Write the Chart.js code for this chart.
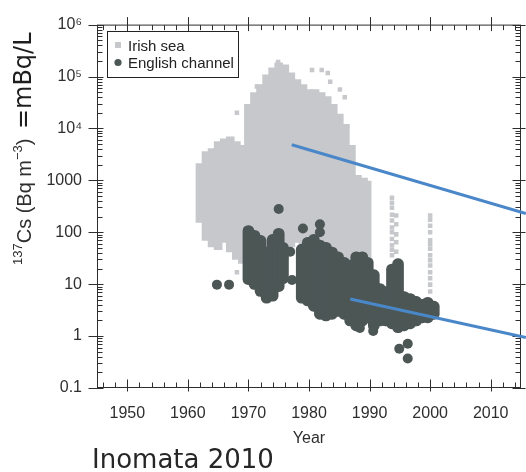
<!DOCTYPE html>
<html lang="en">
<head>
  <meta charset="UTF-8" />
  <title>137Cs in the Irish sea and the English channel</title>
  <script src="https://cdn.jsdelivr.net/npm/chart.js"></script>
  <style>
    body { margin: 0; background: #fff; }
    #wrap { position: relative; width: 526px; height: 472px; }
  </style>
</head>
<body>
  <div id="wrap"><canvas id="csChart" width="526" height="472"></canvas></div>

  <script>
    // Irish sea, dense body: range of values per year (Bq m-3)
    const irishYears = [1962, 1963, 1964, 1965, 1966, 1967, 1968, 1969, 1970, 1971, 1972, 1973, 1974, 1975, 1976,
      1977, 1978, 1979, 1980, 1981, 1982, 1983, 1984, 1985, 1986, 1987, 1988, 1989, 1989.6];
    const irishHigh = [2100, 3600, 4100, 5600, 6300, 6900, 5600, 4700, 29000, 49000, 70000, 108000, 147000, 183000, 167000,
      118000, 87000, 70000, 56000, 56000, 49000, 41000, 29000, 19000, 12000, 4700, 1250, 1100, 970];
    const irishLow = [155, 70, 52, 46, 64, 42, 30, 25, 11, 11, 11, 11, 11, 11, 30,
      52, 64, 17, 17, 17, 17, 17, 17, 17, 30, 30, 30, 30, 33];

    // Irish sea, isolated samples
    const irishPtYears = [1968.1, 1971.4, 1974.9, 1980.5, 1982.1, 1983.1, 1983.5, 1985.1, 1985.9, 1986.3, 1986.4, 1968.1,
      1993.7, 1993.7, 1993.7, 1993.7, 1993.7, 1993.7, 1993.7, 1993.7, 1993.7, 1993.7, 1993.7,
      1994.4, 1994.4, 1994.4, 1994.4, 1994.4,
      2000.0, 2000.0, 2000.0, 2000.0, 2000.0, 2000.0, 2000.0, 2000.0, 2000.0, 2000.0, 2000.0, 2000.0, 2000.0, 2000.0];
    const irishPtValues = [20000, 64000, 190000, 134000, 134000, 117000, 79000, 56000, 40000, 10700, 3700, 17,
      460, 370, 296, 218, 168, 124, 100, 74, 56, 46, 36,
      210, 142, 91, 64, 42,
      210, 175, 134, 100, 70, 59, 48, 36, 29, 23, 17, 13, 9.8, 7.2];

    // English channel, dense body: range of values per year
    const engYears = [1970, 1971, 1972, 1973, 1974, 1975, 1975.7, 1978.8, 1979.8, 1980.8, 1981.8, 1982.8, 1983.8, 1984.8,
      1985.8, 1986.8, 1987.8, 1988.8, 1989.7, 1990.7, 1991.7, 1992.7, 1993.7, 1994.7, 1995.7, 1996.7, 1997.7, 1998.7,
      1999.6, 2000.6];
    const engHigh = [135, 109, 87, 52, 91, 119, 64, 59, 80, 91, 71, 64, 52, 42,
      33, 29, 42, 42, 33, 19, 10.3, 9, 24.5, 31, 7.2, 6.6, 5.8, 5.1,
      5.6, 4.7];
    const engLow = [9.8, 7.9, 5.8, 4.3, 4.7, 7.2, 10.2, 4.3, 3.8, 3.0, 2.1, 1.95, 2.1, 2.4,
      2.1, 1.57, 1.26, 1.57, 1.8, 1.26, 1.57, 1.57, 1.38, 1.16, 1.26, 1.38, 1.57, 1.8,
      1.8, 2.1];

    // English channel, isolated samples
    const engPtYears = [1964.8, 1966.8, 1975.0, 1976.9, 1977.2, 1979.0, 1981.8, 1981.8, 1988.4, 1990.6, 1994.9, 1996.3, 1996.3];
    const engPtValues = [9.8, 9.8, 280, 42, 12, 118, 142, 100, 1.43, 1.26, 0.57, 0.71, 0.37];

    // blue trend lines drawn over the figure
    const upperLineYears = [1977.15, 2015.8];
    const upperLineValues = [4860, 229];
    const lowerLineYears = [1986.8, 2015.8];
    const lowerLineValues = [5.2, 0.94];

    const xTickYears = [1950, 1960, 1970, 1980, 1990, 2000, 2010];
    const yTickValues = [0.1, 1, 10, 100, 1000, 1e4, 1e5, 1e6];
    const yTickLabels = ["0.1", "1", "10", "100", "1000", "10⁴", "10⁵", "10⁶"];

    const IRISH = "#c6c8cb";
    const DARK = "#4c5655";
    const BLUE = "#4a87c9";
    const INK = "#2e2e2e";
    const SANS = "'Liberation Sans', Arial, Helvetica, sans-serif";
    const ROUND = "'DejaVu Sans', Verdana, sans-serif";

    const toRange = (xs, lo, hi) => xs.map((x, i) => ({ x: x, y: [lo[i], hi[i]] }));
    const toPoints = (xs, ys) => xs.map((x, i) => ({ x: x, y: ys[i] }));

    // frame, inward ticks, legend box and the extra labels
    const decor = {
      id: "decor",
      beforeDatasetsDraw(chart) {
        const { ctx, chartArea: a, scales: { x, y } } = chart;
        ctx.save();
        ctx.strokeStyle = INK;
        ctx.lineWidth = 1;
        const L = a.left + 0.5, R = a.right - 0.5, T = a.top + 0.5, B = a.bottom - 0.5;
        ctx.strokeRect(L, T, R - L, B - T);
        ctx.beginPath();
        const xTick = (yr, major) => {
          const px = Math.round(x.getPixelForValue(yr)) + 0.5;
          ctx.moveTo(px, B - (major ? 8 : 5)); ctx.lineTo(px, B + (major ? 4 : 0));
          ctx.moveTo(px, T - (major ? 8 : 0)); ctx.lineTo(px, T + (major ? 6 : 5));
        };
        const yTick = (v, major) => {
          const py = Math.round(y.getPixelForValue(v)) + 0.5;
          ctx.moveTo(L - (major ? 9 : 0), py); ctx.lineTo(L + (major ? 6 : 5), py);
          ctx.moveTo(R - (major ? 8 : 5), py); ctx.lineTo(R + (major ? 5 : 0), py);
        };
        xTickYears.forEach(v => xTick(v, true));
        for (let yr = 1946; yr < 2015; yr += 2) if (yr % 10) xTick(yr, false);
        yTickValues.forEach(v => yTick(v, true));
        for (let d = 0.1; d < 1e6; d *= 10) for (let m = 2; m < 10; m++) yTick(d * m, false);
        ctx.stroke();
        ctx.restore();
      },
      afterDraw(chart) {
        const ctx = chart.ctx;
        ctx.save();
        // legend
        ctx.strokeStyle = "#222";
        ctx.lineWidth = 1;
        ctx.strokeRect(107.5, 31.5, 131, 46);
        ctx.fillStyle = IRISH;
        ctx.fillRect(115, 42, 6, 6);
        ctx.fillStyle = DARK;
        ctx.beginPath();
        ctx.arc(118, 62.5, 3.6, 0, Math.PI * 2);
        ctx.fill();
        ctx.fillStyle = "#222";
        ctx.font = "15px " + SANS;
        ctx.textBaseline = "alphabetic";
        ctx.fillText("Irish sea", 128, 51);
        ctx.fillText("English channel", 128, 68);

        // y title: 137Cs (Bq m-3) = mBq/L
        ctx.translate(31, 265);
        ctx.rotate(-Math.PI / 2);
        let u = 0;
        const part = (text, size, dy) => {
          ctx.font = size + "px " + SANS;
          ctx.fillText(text, u, dy);
          u += ctx.measureText(text).width;
        };
        ctx.fillStyle = INK;
        part("137", 13, -9);
        part("Cs (Bq m", 20, 0);
        part("−3", 13, -9);
        part(")", 20, 0);
        ctx.fillStyle = "#1e1e1e";
        ctx.font = "24px " + ROUND;
        ctx.textAlign = "center";
        ctx.fillText("=", 146, 0);
        ctx.textAlign = "left";
        ctx.fillText("mBq/L", 156, 0);
        ctx.restore();

        ctx.save();
        ctx.fillStyle = "#262626";
        ctx.font = "26px " + ROUND;
        ctx.fillText("Inomata 2010", 92, 468);
        ctx.restore();
      }
    };

    const ctx = document.getElementById("csChart").getContext("2d");

    new Chart(ctx, {
      type: "scatter",
      data: {
        datasets: [
          {
            label: "upper line", type: "line", data: toPoints(upperLineYears, upperLineValues),
            borderColor: BLUE, borderWidth: 3, pointRadius: 0, fill: false, clip: false, order: 0
          },
          {
            label: "lower line", type: "line", data: toPoints(lowerLineYears, lowerLineValues),
            borderColor: BLUE, borderWidth: 3, pointRadius: 0, fill: false, clip: false, order: 0
          },
          {
            label: "English channel", data: toPoints(engPtYears, engPtValues),
            pointStyle: "circle", pointRadius: 5, backgroundColor: DARK, borderWidth: 0, order: 1
          },
          {
            label: "English channel (range)", type: "bar", data: toRange(engYears, engLow, engHigh),
            backgroundColor: DARK, borderColor: DARK, barThickness: 11, borderRadius: 5.5,
            borderSkipped: false, grouped: false, order: 2
          },
          {
            label: "Irish sea", data: toPoints(irishPtYears, irishPtValues),
            pointStyle: "rect", pointRadius: 3.2, backgroundColor: IRISH, borderWidth: 0, order: 3
          },
          {
            label: "Irish sea (range)", type: "bar", data: toRange(irishYears, irishLow, irishHigh),
            backgroundColor: IRISH, borderColor: IRISH, borderWidth: 0, barThickness: 8,
            borderSkipped: false, grouped: false, order: 4
          }
        ]
      },
      options: {
        responsive: false,
        animation: false,
        events: [],
        layout: { padding: { top: 19, right: 5, left: 0, bottom: 0 } },
        plugins: {
          legend: { display: false },
          tooltip: { enabled: false }
        },
        scales: {
          x: {
            type: "linear",
            min: 1945,
            max: 2015,
            offset: false,
            afterBuildTicks: s => { s.ticks = xTickYears.map(v => ({ value: v })); },
            afterFit: s => { s.height = 84; },
            grid: { display: false, drawTicks: false },
            border: { display: false },
            ticks: {
              padding: 16, color: INK, autoSkip: false, maxRotation: 0,
              font: { size: 16, family: SANS },
              callback: v => String(v)
            },
            title: {
              display: true, text: "Year", color: INK,
              font: { size: 16, family: SANS },
              padding: { top: 0, bottom: 24 }
            }
          },
          y: {
            type: "logarithmic",
            min: 0.1,
            max: 1e6,
            afterBuildTicks: s => { s.ticks = yTickValues.map(v => ({ value: v })); },
            afterFit: s => { s.width = 97; },
            grid: { display: false, drawTicks: false },
            border: { display: false },
            ticks: {
              padding: 15, color: INK, autoSkip: false,
              font: { size: 16, family: SANS },
              callback: (v, i) => yTickLabels[i]
            }
          }
        }
      },
      plugins: [decor]
    });
  </script>
</body>
</html>
